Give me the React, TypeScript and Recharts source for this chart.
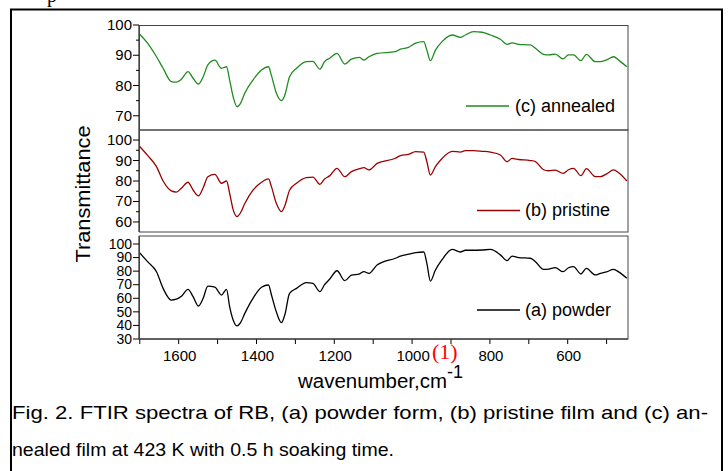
import { LineChart, Line, XAxis, YAxis } from 'recharts';

// wavenumber grid (cm-1) shared by the three spectra
const wavenumber = [
  1702, 1680, 1657, 1640, 1619, 1606, 1593, 1576, 1563, 1549, 1537, 1525, 1507, 1490, 1477, 1469, 1460, 1450, 1441,
  1430, 1409, 1387, 1369, 1362, 1349, 1336, 1327, 1315, 1297, 1272, 1255, 1237, 1225, 1212, 1193, 1173, 1156, 1135,
  1124, 1111, 1090, 1043, 1030, 1009, 991, 970, 962, 953, 940, 923, 897, 876, 863, 842, 820, 799, 773, 756, 743, 726,
  696, 683, 662, 649, 632, 612, 598, 585, 566, 552, 529, 516, 500, 482, 469, 448,
];

const annealed = [
  97.2, 94, 89.5, 85.7, 81.3, 81.1, 82.1, 84.6, 82.4, 80.5, 82.9, 86.8, 88.4, 85.7, 86.2, 81.8, 76.3, 73, 74.1,
  77.5, 81.8, 85.1, 86.2, 83.5, 77.5, 75, 76.9, 82.9, 85.7, 87.9, 88, 85.4, 87.9, 89, 90.6, 87.1, 88.7, 89.3,
  88.4, 89.5, 90.6, 91.2, 92, 92.6, 94, 94.5, 91.7, 88.2, 91.7, 94.5, 96.7, 95.9, 96.7, 97.8, 97.6, 96.7, 95.3, 93.6, 94.1, 93.6,
  93.4, 92.3, 90.3, 90.1, 90.4, 88.8, 90.1, 90.1, 88.2, 90.3, 87.9, 87.9, 88.5, 89.5, 88.4, 86.2,
];

const pristine = [
  97.2, 92.5, 87, 80, 75.2, 74.6, 76.5, 79.4, 75.6, 72.7, 76.7, 82.1, 83.2, 78.9, 80, 74, 66, 62.6, 64.5,
  69, 75.5, 79.4, 81, 77.5, 69.1, 65, 68, 75.5, 78.9, 81.6, 81.9, 78.4, 81, 82.5, 86.2, 82.1, 84.6, 86,
  86.5, 85.4, 88.6, 91.1, 92.4, 93, 94.3, 94.1, 89.4, 82.9, 87, 91, 94.5, 94.1, 94.8, 94.8, 94.5, 94.1, 92.7, 89.4, 91, 90.5,
  90, 89.5, 85.5, 85, 85.3, 83.7, 85.5, 86.2, 82.6, 86, 82.1, 82.1, 83.5, 85.4, 84, 80,
];

const powder = [
  94, 87, 79.6, 67.3, 58.7, 59.3, 61.5, 66.6, 61.2, 54.3, 60, 69, 68.3, 62.4, 66.6, 53.8, 44, 39.6, 42,
  48.9, 60, 68.1, 69.8, 63, 50, 42, 48, 63.6, 67.3, 71.5, 71, 64.9, 70, 74, 80.3, 73, 77, 78,
  79.6, 78.4, 84.5, 89.5, 91, 92.5, 93.6, 94.1, 85.8, 72.7, 80.8, 88.5, 96.1, 94.1, 95.4, 95.4, 95.6, 96, 92, 87.7, 91, 90,
  89.5, 87, 81.3, 81.5, 82.6, 79.6, 82.5, 83.4, 77.9, 82, 77.2, 78.4, 79.5, 81.3, 79.5, 74.7,
];

const xTicks = [1700, 1600, 1500, 1400, 1300, 1200, 1100, 1000, 900, 800, 700, 600, 500];
const xLabels = [1600, 1400, 1200, 1000, 800, 600];

const topTicks = [70, 75, 80, 85, 90, 95, 100];
const topLabels = [70, 80, 90, 100];
const midTicks = [60, 65, 70, 75, 80, 85, 90, 95, 100];
const midLabels = [60, 70, 80, 90, 100];
const botTicks = [30, 40, 50, 60, 70, 80, 90, 100];
const botLabels = [30, 40, 50, 60, 70, 80, 90, 100];

const FONT = '"Liberation Sans", Arial, sans-serif';
const X_DOMAIN = [445, 1702];

const rows = (values: number[]) => wavenumber.map((wn, i) => ({ wn, t: values[i] }));

function makeYTick(labels: number[], fontSize: number) {
  return (props: any) => {
    const { x, y, payload } = props;
    const major = labels.includes(payload.value);
    return (
      <g>
        <line x1={x - (major ? 6 : 3)} x2={x} y1={y} y2={y} stroke="#000" />
        {major && (
          <text x={x - 7} y={y} dy={fontSize / 3} textAnchor="end" fontSize={fontSize} fontFamily={FONT} fill="#000">
            {payload.value}
          </text>
        )}
      </g>
    );
  };
}

const innerXTick = (props: any) => (
  <line x1={props.x} x2={props.x} y1={props.y} y2={props.y - 3} stroke="#888" />
);

const bottomXTick = (props: any) => {
  const { x, y, payload } = props;
  return (
    <g>
      <line x1={x} x2={x} y1={y} y2={y + 5} stroke="#000" />
      {xLabels.includes(payload.value) && (
        <text x={x + 1} y={y + 22} textAnchor="middle" fontSize={15} fontFamily={FONT} fill="#000">
          {payload.value}
        </text>
      )}
    </g>
  );
};

interface PanelProps {
  values: number[];
  color: string;
  domain: number[];
  ticks: number[];
  labels: number[];
  tickFont: number;
  top: number;
  height: number;
  bottomAxis?: boolean;
}

function Panel({ values, color, domain, ticks, labels, tickFont, top, height, bottomAxis }: PanelProps) {
  return (
    <div style={{ position: 'absolute', left: 0, top }}>
      <LineChart
        width={728}
        height={height}
        data={rows(values)}
        margin={{ top: 10, right: 100, bottom: bottomAxis ? 0 : 10, left: 99 }}
      >
        <XAxis
          dataKey="wn"
          type="number"
          domain={X_DOMAIN}
          reversed
          allowDataOverflow
          ticks={xTicks}
          interval={0}
          height={bottomAxis ? 30 : 0}
          tickSize={0}
          tickMargin={0}
          axisLine={{ stroke: '#000' }}
          tick={bottomAxis ? bottomXTick : innerXTick}
        />
        <YAxis
          type="number"
          domain={domain}
          allowDataOverflow
          ticks={ticks}
          interval={0}
          width={40}
          tickSize={0}
          tickMargin={0}
          axisLine={{ stroke: '#000' }}
          tick={makeYTick(labels, tickFont)}
        />
        <Line
          dataKey="t"
          type="monotone"
          stroke={color}
          strokeWidth={1.3}
          dot={false}
          isAnimationActive={false}
        />
      </LineChart>
    </div>
  );
}

export default function App() {
  return (
    <div
      style={{
        position: 'absolute',
        left: 0,
        top: 0,
        width: 728,
        height: 471,
        background: '#fff',
        overflow: 'hidden',
      }}
    >
      <Panel values={annealed} color="#1f8c1f" domain={[65.3, 100]} ticks={topTicks} labels={topLabels} tickFont={15} top={15} height={125} />
      <Panel values={pristine} color="#9a0000" domain={[55.1, 104.9]} ticks={midTicks} labels={midLabels} tickFont={15} top={120} height={122} />
      <Panel
        values={powder}
        color="#000"
        domain={[30, 105.9]}
        ticks={botTicks}
        labels={botLabels}
        tickFont={14}
        top={226}
        height={143}
        bottomAxis
      />
      <svg
        width={728}
        height={471}
        style={{ position: 'absolute', left: 0, top: 0, pointerEvents: 'none' }}
        fontFamily={FONT}
      >
        {/* outer frame */}
        <path d="M11 471 V9.5 H722 V471" fill="none" stroke="#000" strokeWidth={2} />
        <text x={47} y={2} fontSize={20} fontFamily="'Liberation Serif', serif">p</text>

        {/* panel frames */}
        <rect x={139.5} y={25.5} width={488.5} height={104.5} fill="none" stroke="#444" />
        <rect x={139.5} y={130} width={488.5} height={102} fill="none" stroke="#444" />
        <rect x={139.5} y={236} width={488.5} height={103} fill="none" stroke="#444" />

        {/* legends */}
        <line x1={466} x2={509} y1={106} y2={106} stroke="#1f8c1f" strokeWidth={1.3} />
        <text x={515} y={112} fontSize={18}>(c) annealed</text>
        <line x1={477} x2={520} y1={210.5} y2={210.5} stroke="#9a0000" strokeWidth={1.3} />
        <text x={525} y={216} fontSize={18}>(b) pristine</text>
        <line x1={477} x2={520} y1={310} y2={310} stroke="#000" strokeWidth={1.3} />
        <text x={525} y={316} fontSize={18}>(a) powder</text>

        {/* axis titles */}
        <text
          x={0}
          y={0}
          transform="translate(90,194) rotate(-90)"
          textAnchor="middle"
          fontSize={21}
          textLength={137}
          lengthAdjust="spacingAndGlyphs"
        >
          Transmittance
        </text>
        <text x={298} y={388} fontSize={20} textLength={149} lengthAdjust="spacingAndGlyphs">
          wavenumber,cm
        </text>
        <text x={447} y={378} fontSize={18}>-1</text>
        <text x={432} y={359} fontSize={22} fill="#f00" fontFamily="'Liberation Serif', serif">(1)</text>

        {/* caption */}
        <text x={12} y={419} fontSize={19} textLength={696} lengthAdjust="spacingAndGlyphs">
          Fig. 2. FTIR spectra of RB, (a) powder form, (b) pristine film and (c) an-
        </text>
        <text x={12} y={456} fontSize={19} textLength={382} lengthAdjust="spacingAndGlyphs">
          nealed film at 423 K with 0.5 h soaking time.
        </text>
      </svg>
    </div>
  );
}
